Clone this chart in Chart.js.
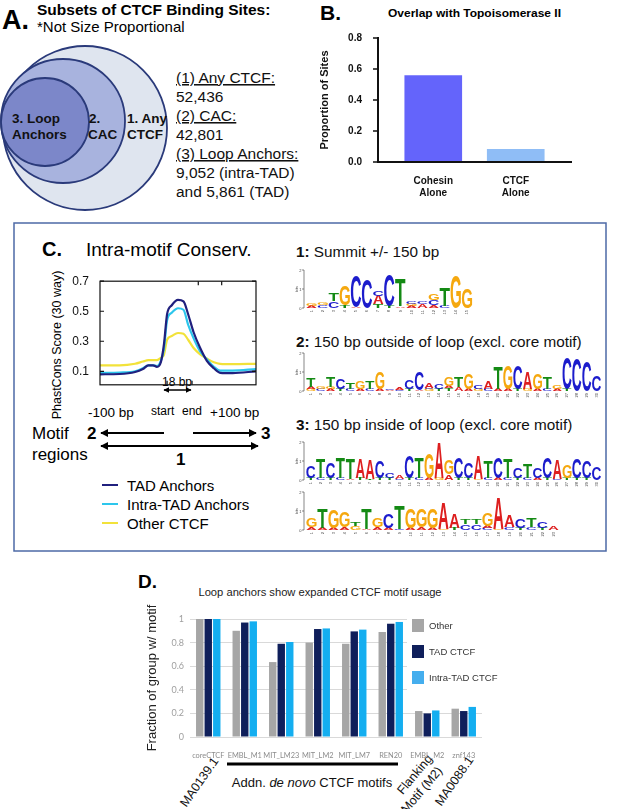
<!DOCTYPE html>
<html>
<head>
<meta charset="utf-8">
<script src="https://cdn.jsdelivr.net/npm/chart.js@4.4.1/dist/chart.umd.min.js"></script>
<style>
  html, body { margin: 0; padding: 0; background: #fff; }
  #page { position: relative; width: 617px; height: 809px; overflow: hidden; font-family: 'Liberation Sans', Arial, sans-serif; color: #111; }
  canvas { position: absolute; }
  #legendD { position: absolute; left: 407px; top: 610px; width: 80px; height: 86px; background: #fff; font-size: 9.5px; color: #333; }
  #legendD .sw { position: absolute; left: 5px; width: 12px; height: 13px; }
  #legendD .lb { position: absolute; left: 22px; line-height: 13px; white-space: nowrap; }
</style>
</head>
<body>
<div id="page">
<svg width="617" height="809" style="position:absolute;left:0;top:0">
  <defs>
    <marker id="ah" viewBox="0 0 10 10" refX="9" refY="5" markerWidth="4" markerHeight="4" orient="auto-start-reverse">
      <path d="M0,0 L10,5 L0,10 z" fill="#000"/>
    </marker>
  </defs>
  <!-- A. nested sets -->
  <text x="2" y="29" font-size="27" font-weight="bold">A.</text>
  <text x="37" y="15" font-size="15.5" font-weight="bold">Subsets of CTCF Binding Sites:</text>
  <text x="37" y="32" font-size="15">*Not Size Proportional</text>
  <circle cx="85" cy="128" r="82" fill="#dfe5ef" stroke="#2a3a7a" stroke-width="1.8"/>
  <circle cx="63" cy="121" r="62" fill="#a8b3de" stroke="#2a3a7a" stroke-width="1.8"/>
  <circle cx="45" cy="122" r="44" fill="#7c87c9" stroke="#2a3a7a" stroke-width="1.8"/>
  <g font-size="13.5" font-weight="bold" fill="#111">
    <text x="12" y="123">3. Loop</text>
    <text x="12" y="139">Anchors</text>
    <text x="89" y="123">2.</text>
    <text x="88" y="139">CAC</text>
    <text x="127" y="123">1. Any</text>
    <text x="127" y="139">CTCF</text>
  </g>
  <g font-size="15.5" fill="#111">
    <text x="176" y="83" style="text-decoration:underline">(1) Any CTCF:</text>
    <text x="176" y="102">52,436</text>
    <text x="176" y="121" style="text-decoration:underline">(2) CAC:</text>
    <text x="176" y="140">42,801</text>
    <text x="176" y="159" style="text-decoration:underline">(3) Loop Anchors:</text>
    <text x="176" y="178">9,052 (intra-TAD)</text>
    <text x="176" y="197">and 5,861 (TAD)</text>
  </g>

  <!-- B. labels -->
  <text x="320" y="20" font-size="21" font-weight="bold">B.</text>
  <text x="388" y="17" font-size="11" font-weight="bold" textLength="173" lengthAdjust="spacingAndGlyphs">Overlap with Topoisomerase II</text>

  <!-- C. box -->
  <rect x="14" y="223" width="592" height="328" fill="none" stroke="#4d6aa6" stroke-width="1.5"/>
  <text x="42" y="256" font-size="20" font-weight="bold">C.</text>
  <text x="86" y="256" font-size="19">Intra-motif Conserv.</text>
  <text transform="translate(61,345) rotate(-90)" font-size="12.5" text-anchor="middle">PhastCons Score (30 way)</text>
  <text x="177" y="386" font-size="12" text-anchor="middle">18 bp</text>
  <line x1="164" y1="390" x2="191" y2="390" stroke="#000" stroke-width="1.5" marker-start="url(#ah)" marker-end="url(#ah)"/>
  <text x="151" y="415" font-size="12">start</text>
  <text x="182" y="415" font-size="12">end</text>
  <text x="88" y="417" font-size="13.5">-100 bp</text>
  <text x="210" y="417" font-size="13.5">+100 bp</text>
  <text x="32" y="439" font-size="17">Motif</text>
  <text x="32" y="460" font-size="17">regions</text>
  <text x="87" y="439" font-size="17" font-weight="bold">2</text>
  <text x="261" y="439" font-size="17" font-weight="bold">3</text>
  <text x="176" y="465" font-size="17" font-weight="bold">1</text>
  <line x1="164" y1="433" x2="101" y2="433" stroke="#000" stroke-width="2" marker-end="url(#ah)"/>
  <line x1="193" y1="433" x2="256" y2="433" stroke="#000" stroke-width="2" marker-end="url(#ah)"/>
  <line x1="101" y1="446" x2="258" y2="446" stroke="#000" stroke-width="2" marker-start="url(#ah)" marker-end="url(#ah)"/>
  <g id="legendC"></g>
  <g font-size="15.3" fill="#111">
    <text x="296" y="257"><tspan font-weight="bold">1:</tspan> Summit +/- 150 bp</text>
    <text x="296" y="347"><tspan font-weight="bold">2:</tspan> 150 bp outside of loop (excl. core motif)</text>
    <text x="296" y="430"><tspan font-weight="bold">3:</tspan> 150 bp inside of loop (excl. core motif)</text>
  </g>

  <!-- D. labels -->
  <text x="138" y="588" font-size="19" font-weight="bold">D.</text>
  <text x="320" y="596" font-size="11.2" text-anchor="middle" fill="#222">Loop anchors show expanded CTCF motif usage</text>
  <line x1="227" y1="764" x2="398" y2="764" stroke="#000" stroke-width="3"/>
  <text x="312" y="787" font-size="13" text-anchor="middle" fill="#111">Addn. <tspan font-style="italic">de novo</tspan> CTCF motifs</text>
  <g font-size="12.5" fill="#111" text-anchor="end">
    <text transform="translate(219,761) rotate(-55)">MA0139.1</text>
    <text transform="translate(433,759) rotate(-50)">Flanking</text>
    <text transform="translate(443,771) rotate(-50)">Motif (M2)</text>
    <text transform="translate(474,760) rotate(-55)">MA0088.1</text>
  </g>
</svg>

<canvas id="logos" width="617" height="809" style="left:0;top:0"></canvas>
<canvas id="chartB" width="270" height="172" style="left:318px;top:24px"></canvas>
<canvas id="chartC" width="220" height="140" style="left:40px;top:263px"></canvas>
<canvas id="chartD" width="360" height="164" style="left:130px;top:598px"></canvas>
<div id="legendD"></div>
</div>

<script>
// =========================
// Data
// =========================
const bCategories = [['Cohesin', 'Alone'], ['CTCF', 'Alone']];
const bValues = [0.557, 0.082];
const bColors = ['#6464fb', '#8fbdf6'];
const bYTicks = [0, 0.2, 0.4, 0.6, 0.8];

const cPositions = [-100, -75, -55, -45, -38, -32, -27, -22, -18, -14, -8, 0, 7, 13, 20, 28, 37, 46, 54, 70, 100];
const cTad   = [0.08, 0.082, 0.095, 0.115, 0.14, 0.14, 0.13, 0.16, 0.28, 0.48, 0.54, 0.575, 0.565, 0.48, 0.36, 0.26, 0.17, 0.12, 0.09, 0.088, 0.10];
const cIntra = [0.09, 0.092, 0.10, 0.12, 0.14, 0.14, 0.135, 0.17, 0.25, 0.44, 0.49, 0.52, 0.51, 0.41, 0.32, 0.235, 0.18, 0.13, 0.105, 0.105, 0.115];
const cOther = [0.14, 0.14, 0.15, 0.165, 0.175, 0.175, 0.175, 0.19, 0.21, 0.31, 0.335, 0.355, 0.35, 0.31, 0.255, 0.215, 0.185, 0.16, 0.15, 0.148, 0.15];
const cSeries = ['TAD Anchors', 'Intra-TAD Anchors', 'Other CTCF'];
const cColors = ['#20207e', '#2cc6ec', '#f2e23a'];
const cYTicks = [0.1, 0.3, 0.5, 0.7];
const cBottomMarks = [-14, 18];
const cTopMarks = [26, 56];

const dCategories = ['coreCTCF', 'EMBL_M1', 'MIT_LM23', 'MIT_LM2', 'MIT_LM7', 'REN20', 'EMBL_M2', 'znf143'];
const dOther = [1.0, 0.90, 0.635, 0.80, 0.79, 0.89, 0.22, 0.24];
const dTad   = [1.0, 0.97, 0.79, 0.915, 0.895, 0.96, 0.20, 0.22];
const dIntra = [1.0, 0.98, 0.805, 0.92, 0.91, 0.975, 0.225, 0.255];
const dSeries = ['Other', 'TAD CTCF', 'Intra-TAD CTCF'];
const dColors = ['#a6a6a6', '#0f1f5b', '#14aef0'];

// sequence logos: each column bottom -> top, letter + height in bits
const logo1 = ['A.12 G.15', 'C.15 G.15', 'C.35 T.4', 'T.15 G1.05', 'A.05 C1.65', 'C1.55', 'T.2 A.45 C.3', 'T.1 C1.65',
  'A.08 T1.45', 'A.1 G.1 C.1', 'A.2 C.15', 'A.15 C.25 G.35', 'C.1 T.95', 'G1.7', 'G1.0'];
const logo2 = ['G.1 A.1 T.5', 'C.1 G.1', 'A.1 G.1 T.55', 'T.1 C.55', 'C.1 T.35', 'A.1 G.4', 'C.1 T.37', 'A.1 G.9',
  'A.05 C.05', 'C.05 A.1', 'T.1 C.45', 'A.05 C.95', 'G.1 C.05 A.3', 'T.1 C.28', 'T.15 A.1 G.5', 'A.2 T.54',
  'A.1 G.8', 'G.1 C.2', 'C.1 A.37', 'A.1 T1.15', 'A.1 G1.25', 'T.1 C1.25', 'G.1 A.9', 'A.1 G.8', 'C.1 T.64',
  'A.1 G.2', 'T.1 C1.65', 'C1.7', 'C1.6', 'C.8'];
const logo3a = ['T.1 C.6', 'C.1 T1.0', 'T.1 C.85', 'C.1 T1.1', 'A.05 T1.1', 'T.1 A1.0', 'T.05 A1.0', 'T.1 C.9',
  'T.1 C.3', 'C.05 A.2', 'T.1 C1.15', 'C.1 T1.1', 'A.1 G1.3', 'G.1 A1.85', 'A.3 G.75', 'T.1 C1.1', 'T.1 C.8',
  'G.05 A1.25', 'C.1 T.9', 'A.1 C1.1', 'C.1 T1.0', 'T.1 C.55', 'C.1 T.75', 'A.1 C.55', 'T.1 C1.1', 'C.05 A1.05',
  'T.1 G.7', 'T.1 C1.0', 'T.1 C.9', 'C.7'];
const logo3b = ['A.15 G.45', 'A.1 T1.0', 'A.1 G.95', 'A.15 G.85', 'G.2 T.2', 'A.05 T1.1', 'A.15 G.45', 'A.1 C.75',
  'C.05 T1.25', 'A.1 G1.0', 'A.15 G.95', 'A.1 G1.0', 'G.05 A1.35', 'T.1 A.75', 'C.3 T.25', 'C.3 T.25',
  'C.1 A.1 G.7', 'G.05 A1.6', 'C.15 A.6', 'T.1 C.5', 'C.15 T.5', 'T.1 C.35', 'A.2'];
const baseColors = { A: '#dd1f1f', C: '#1c1ccc', G: '#f5a80f', T: '#148a14' };

Chart.defaults.font.family = "'Liberation Sans', Arial, sans-serif";
Chart.defaults.color = '#111';
Chart.defaults.animation = false;

// =========================
// Panel B: bar chart
// =========================
const axesB = {
    id: 'axesB',
    afterDraw(chart) {
        const { ctx, chartArea: a, scales } = chart;
        ctx.save();
        ctx.strokeStyle = '#111';
        ctx.lineWidth = 2;
        ctx.beginPath();
        ctx.moveTo(a.left, a.top - 1); ctx.lineTo(a.left, a.bottom);
        ctx.lineTo(a.right + 1, a.bottom);
        ctx.stroke();
        ctx.lineWidth = 1.5;
        ctx.beginPath();
        bYTicks.forEach(v => {
            const y = scales.y.getPixelForValue(v);
            ctx.moveTo(a.left - 5, y); ctx.lineTo(a.left, y);
        });
        ctx.stroke();
        ctx.restore();
    }
};

new Chart(document.getElementById('chartB'), {
    type: 'bar',
    data: {
        datasets: [{
            data: bValues.map((v, i) => ({ x: i, y: v })),
            backgroundColor: bColors,
            barThickness: 57
        }]
    },
    options: {
        responsive: false,
        layout: { padding: { top: 9, right: 17, left: 0, bottom: 0 } },
        plugins: { legend: { display: false }, tooltip: { enabled: false } },
        scales: {
            x: {
                type: 'linear', min: -0.67, max: 1.67, offset: false,
                afterBuildTicks: s => { s.ticks = bCategories.map((c, i) => ({ value: i })); },
                afterFit: s => { s.height = 34; },
                ticks: { callback: v => bCategories[v], font: { size: 10, weight: 'bold' }, padding: 5, maxRotation: 0 },
                grid: { display: false, offset: false },
                border: { display: false }
            },
            y: {
                min: 0, max: 0.8,
                afterFit: s => { s.width = 60; },
                afterBuildTicks: s => { s.ticks = bYTicks.map(v => ({ value: v })); },
                ticks: { callback: v => v.toFixed(1), font: { size: 10, weight: 'bold' }, padding: 8 },
                grid: { display: false },
                border: { display: false },
                title: { display: true, text: 'Proportion of Sites', font: { size: 11, weight: 'bold' }, padding: { top: 0, bottom: 2 } }
            }
        }
    },
    plugins: [axesB]
});

// =========================
// Panel C: conservation profile
// =========================
const frameC = {
    id: 'frameC',
    afterDraw(chart) {
        const { ctx, chartArea: a, scales } = chart;
        ctx.save();
        ctx.strokeStyle = '#111';
        ctx.lineWidth = 1.2;
        ctx.strokeRect(a.left, a.top, a.right - a.left, a.bottom - a.top);
        ctx.beginPath();
        cYTicks.forEach(v => {
            const y = scales.y.getPixelForValue(v);
            ctx.moveTo(a.left, y); ctx.lineTo(a.left + 4, y);
            ctx.moveTo(a.right, y); ctx.lineTo(a.right - 4, y);
        });
        cBottomMarks.forEach(v => {
            const x = scales.x.getPixelForValue(v);
            ctx.moveTo(x, a.bottom); ctx.lineTo(x, a.bottom - 4);
        });
        cTopMarks.forEach(v => {
            const x = scales.x.getPixelForValue(v);
            ctx.moveTo(x, a.top); ctx.lineTo(x, a.top + 4);
        });
        ctx.stroke();
        ctx.restore();
    }
};

new Chart(document.getElementById('chartC'), {
    type: 'line',
    data: {
        datasets: [cTad, cIntra, cOther].map((vals, i) => ({
            label: cSeries[i],
            data: vals.map((v, k) => ({ x: cPositions[k], y: v })),
            borderColor: cColors[i],
            borderWidth: 2.2,
            pointRadius: 0,
            cubicInterpolationMode: 'monotone',
            fill: false
        }))
    },
    options: {
        responsive: false,
        layout: { padding: { top: 10, right: 4, bottom: 3, left: 0 } },
        plugins: { legend: { display: false }, tooltip: { enabled: false } },
        scales: {
            x: { type: 'linear', min: -100, max: 100, display: false },
            y: {
                min: 0.01, max: 0.7,
                afterFit: s => { s.width = 60; },
                afterBuildTicks: s => { s.ticks = cYTicks.map(v => ({ value: v })); },
                ticks: { callback: v => v.toFixed(1), font: { size: 12 }, padding: 11 },
                grid: { display: false, drawTicks: false, tickLength: 0 },
                border: { display: false }
            }
        }
    },
    plugins: [frameC]
});

// legend for C
(function () {
    const g = document.getElementById('legendC');
    const ns = 'http://www.w3.org/2000/svg';
    cSeries.forEach((name, i) => {
        const y = 485 + i * 19;
        const l = document.createElementNS(ns, 'line');
        l.setAttribute('x1', 102); l.setAttribute('x2', 118);
        l.setAttribute('y1', y); l.setAttribute('y2', y);
        l.setAttribute('stroke', cColors[i]); l.setAttribute('stroke-width', 2);
        g.appendChild(l);
        const t = document.createElementNS(ns, 'text');
        t.setAttribute('x', 127); t.setAttribute('y', y + 5.5);
        t.setAttribute('font-size', 15);
        t.textContent = name;
        g.appendChild(t);
    });
})();

// =========================
// Panel D: grouped bars
// =========================
new Chart(document.getElementById('chartD'), {
    type: 'bar',
    data: {
        labels: dCategories,
        datasets: [dOther, dTad, dIntra].map((vals, i) => ({
            label: dSeries[i],
            data: vals,
            backgroundColor: dColors[i],
            categoryPercentage: 0.7,
            barPercentage: 0.87
        }))
    },
    options: {
        responsive: false,
        layout: { padding: { top: 21, right: 8, left: 0, bottom: 0 } },
        plugins: { legend: { display: false }, tooltip: { enabled: false } },
        scales: {
            x: {
                afterFit: s => { s.height = 25; },
                ticks: { color: '#8c8c8c', font: { family: 'Lato', size: 7.4 }, padding: 6, maxRotation: 0, minRotation: 0, autoSkip: false },
                grid: { display: false },
                border: { display: false }
            },
            y: {
                min: 0, max: 1,
                afterFit: s => { s.width = 60; },
                ticks: { stepSize: 0.1, callback: v => String(Math.round(v * 10) / 10), color: '#a0a0a0', font: { family: 'Lato', size: 9 }, padding: 6 },
                grid: { color: '#d9d9d9', drawTicks: false },
                border: { display: false },
                title: { display: true, text: 'Fraction of group w/ motif', color: '#222', font: { size: 13 }, padding: { top: 15, bottom: 0 } }
            }
        }
    }
});

// legend for D
(function () {
    const box = document.getElementById('legendD');
    dSeries.forEach((name, i) => {
        const top = 9 + i * 26;
        const sw = document.createElement('div');
        sw.className = 'sw'; sw.style.top = top + 'px';
        sw.style.background = i === 2 ? '#45aeee' : dColors[i];
        box.appendChild(sw);
        const lb = document.createElement('div');
        lb.className = 'lb'; lb.style.top = top + 'px';
        lb.textContent = name;
        box.appendChild(lb);
    });
})();

// =========================
// Sequence logos
// =========================
function drawLetter(ctx, L, x, yBottom, w, h) {
    if (h < 0.4) return;
    ctx.save();
    ctx.font = 'bold 100px "Liberation Sans", Arial';
    const m = ctx.measureText(L);
    const bw = m.actualBoundingBoxLeft + m.actualBoundingBoxRight;
    const bh = m.actualBoundingBoxAscent + m.actualBoundingBoxDescent;
    ctx.translate(x, yBottom);
    ctx.scale(w / bw, h / bh);
    ctx.fillStyle = baseColors[L];
    ctx.fillText(L, m.actualBoundingBoxLeft, -m.actualBoundingBoxDescent);
    ctx.restore();
}

function drawLogo(ctx, cols, x0, yBase, bitPx, colW) {
    // axis
    ctx.save();
    ctx.strokeStyle = '#555';
    ctx.lineWidth = 0.7;
    ctx.beginPath();
    ctx.moveTo(x0 - 2, yBase); ctx.lineTo(x0 - 2, yBase - 2 * bitPx);
    [0, 1, 2].forEach(b => { ctx.moveTo(x0 - 4, yBase - b * bitPx); ctx.lineTo(x0 - 2, yBase - b * bitPx); });
    ctx.stroke();
    ctx.fillStyle = '#444';
    ctx.font = '4px "Liberation Sans", Arial';
    ctx.textAlign = 'right';
    [0, 1, 2].forEach(b => ctx.fillText(String(b), x0 - 4.5, yBase - b * bitPx + 1.5));
    ctx.save();
    ctx.translate(x0 - 8, yBase - bitPx);
    ctx.rotate(-Math.PI / 2);
    ctx.textAlign = 'center';
    ctx.fillText('bits', 0, 0);
    ctx.restore();
    // position numbers
    cols.forEach((c, i) => {
        ctx.save();
        ctx.translate(x0 + (i + 0.5) * colW + 1.2, yBase + 2);
        ctx.rotate(-Math.PI / 2);
        ctx.textAlign = 'right';
        ctx.fillText(String(i + 1), 0, 0);
        ctx.restore();
    });
    ctx.restore();
    cols.forEach((col, i) => {
        let y = yBase;
        col.split(' ').forEach(tok => {
            const h = parseFloat(tok.slice(1)) * bitPx;
            drawLetter(ctx, tok[0], x0 + i * colW + 0.4, y, colW - 0.8, h);
            y -= h;
        });
    });
}

(function () {
    const ctx = document.getElementById('logos').getContext('2d');
    ctx.save();
    ctx.beginPath();
    ctx.rect(0, 0, 604, 809);
    ctx.clip();
    drawLogo(ctx, logo1, 306, 308, 19, 11.1);
    drawLogo(ctx, logo2, 306, 391, 19, 9.85);
    drawLogo(ctx, logo3a, 306, 480, 19, 9.85);
    drawLogo(ctx, logo3b, 306, 530, 19, 11.0);
    ctx.restore();
})();
</script>
</body>
</html>
